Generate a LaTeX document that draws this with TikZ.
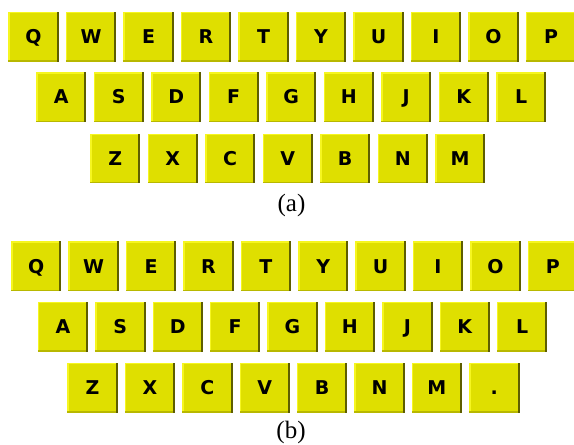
\documentclass[tikz,border=0pt]{standalone}
\usepackage{fontspec}
\setmainfont{Liberation Serif}
\newfontfamily\keyfamily{DejaVu Sans}
\definecolor{keyface}{HTML}{DFDF00}
\definecolor{keylight}{HTML}{F6F620}
\definecolor{keyshade}{HTML}{B8B800}
\definecolor{keydark}{HTML}{5E5E00}
\tikzset{
  keybox/.style={fill=keyface, minimum width=50pt, minimum height=49.5pt,
    inner sep=0pt, anchor=north west, text=black, text height=13.6pt, text depth=0pt,
    font=\keyfamily\bfseries\fontsize{19}{19}\selectfont},
  caption/.style={font=\fontsize{25}{27}\selectfont, inner sep=0pt}
}
\newcommand\mykey[4]{%
  \node[keybox] (#1) at (#2pt,-#3pt) {#4};
  \fill[keylight] (#1.north west) rectangle ([yshift=-1.5pt]#1.north east);
  \fill[keylight] (#1.north west) rectangle ([xshift=1.5pt]#1.south west);
  \fill[keyshade] ([yshift=1.3pt]#1.south west) rectangle (#1.south east);
  \fill[keydark] ([xshift=-2pt]#1.north east) rectangle (#1.south east);
}
\begin{document}
\begin{tikzpicture}
\useasboundingbox (0,0) rectangle (574pt,-445pt);
% panel (a)
\foreach \l/\n [count=\i from 0] in {Q/Q,W/W,E/E,R/R,T/T,Y/Y,U/U,I/I,O/O,P/P}{
  \pgfmathsetmacro\xx{8.3+57.5*\i}
  \mykey{a\n}{\xx}{11.7}{\l}
}
\foreach \l/\n [count=\i from 0] in {A/A,S/S,D/D,F/F,G/G,H/H,J/J,K/K,L/L}{
  \pgfmathsetmacro\xx{36+57.5*\i}
  \mykey{a\n}{\xx}{72}{\l}
}
\foreach \l/\n [count=\i from 0] in {Z/Z,X/X,C/C,V/V,B/B,N/N,M/M}{
  \pgfmathsetmacro\xx{90+57.5*\i}
  \mykey{a\n}{\xx}{133.5}{\l}
}
\node[caption] (capa) at (291.5pt,-205pt) {(a)};
% panel (b)
\foreach \l/\n [count=\i from 0] in {Q/Q,W/W,E/E,R/R,T/T,Y/Y,U/U,I/I,O/O,P/P}{
  \pgfmathsetmacro\xx{11+57.4*\i}
  \mykey{b\n}{\xx}{241.3}{\l}
}
\foreach \l/\n [count=\i from 0] in {A/A,S/S,D/D,F/F,G/G,H/H,J/J,K/K,L/L}{
  \pgfmathsetmacro\xx{37.7+57.4*\i}
  \mykey{b\n}{\xx}{301.8}{\l}
}
\foreach \l/\n [count=\i from 0] in {Z/Z,X/X,C/C,V/V,B/B,N/N,M/M,./dot}{
  \pgfmathsetmacro\xx{67.3+57.4*\i}
  \mykey{b\n}{\xx}{362.8}{\l}
}
\node[caption] (capb) at (291pt,-432pt) {(b)};
\end{tikzpicture}
\end{document}
